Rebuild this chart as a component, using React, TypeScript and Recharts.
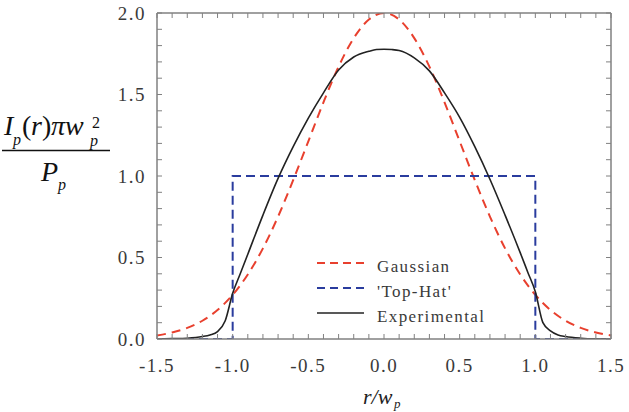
import React from "react";
import { LineChart, Line, XAxis, YAxis, Customized } from "recharts";

// Normalised radius positions (r / w_p) and intensity readings
const gaussR = [-1.5, -1.4, -1.3, -1.2, -1.1, -1.0, -0.9, -0.8, -0.7, -0.6, -0.5, -0.4, -0.3, -0.2, -0.1, 0, 0.1, 0.2, 0.3, 0.4, 0.5, 0.6, 0.7, 0.8, 0.9, 1.0, 1.1, 1.2, 1.3, 1.4, 1.5];
const gaussI = [0.022, 0.04, 0.068, 0.112, 0.178, 0.271, 0.396, 0.556, 0.751, 0.975, 1.213, 1.452, 1.671, 1.846, 1.96, 2.0, 1.96, 1.846, 1.671, 1.452, 1.213, 0.975, 0.751, 0.556, 0.396, 0.271, 0.178, 0.112, 0.068, 0.04, 0.022];

const hatR = [-1.5, -1.0, -1.0, 1.0, 1.0, 1.5];
const hatI = [0, 0, 1, 1, 0, 0];

const expR = [-1.5, -1.4, -1.3, -1.2, -1.15, -1.1, -1.05, -1.0, -0.95, -0.9, -0.8, -0.7, -0.6, -0.5, -0.4, -0.3, -0.2, -0.1, -0.05, 0, 0.05, 0.1, 0.2, 0.3, 0.4, 0.5, 0.6, 0.7, 0.8, 0.9, 0.95, 1.0, 1.05, 1.1, 1.15, 1.2, 1.3, 1.4, 1.5];
const expI = [0, 0.002, 0.005, 0.015, 0.025, 0.045, 0.11, 0.28, 0.4, 0.52, 0.76, 0.985, 1.18, 1.355, 1.51, 1.65, 1.73, 1.765, 1.776, 1.778, 1.776, 1.77, 1.725, 1.645, 1.51, 1.36, 1.18, 0.98, 0.76, 0.53, 0.41, 0.29, 0.1, 0.05, 0.025, 0.015, 0.005, 0.001, 0];

const xTicks = [-1.5, -1.4, -1.3, -1.2, -1.1, -1.0, -0.9, -0.8, -0.7, -0.6, -0.5, -0.4, -0.3, -0.2, -0.1, 0, 0.1, 0.2, 0.3, 0.4, 0.5, 0.6, 0.7, 0.8, 0.9, 1.0, 1.1, 1.2, 1.3, 1.4, 1.5];
const yTicks = [0, 0.1, 0.2, 0.3, 0.4, 0.5, 0.6, 0.7, 0.8, 0.9, 1.0, 1.1, 1.2, 1.3, 1.4, 1.5, 1.6, 1.7, 1.8, 1.9, 2.0];

const seriesNames = ["Gaussian", "'Top-Hat'", "Experimental"];

const zip = (r: number[], v: number[]) => r.map((x, i) => ({ r: x, I: v[i] }));
const gaussData = zip(gaussR, gaussI);
const hatData = zip(hatR, hatI);
const expData = zip(expR, expI);

const RED = "#e8402e";
const BLUE = "#2a3c9e";
const BLACK = "#222222";
const AXIS = "#808080";
const TEXT = "#3a3a3a";
const SERIF = "'Liberation Serif', 'DejaVu Serif', serif";
const TICK = 5;

const serif = (size: number, italic = false, extra: React.CSSProperties = {}): React.CSSProperties => ({
  fontFamily: SERIF,
  fontSize: size,
  fontStyle: italic ? "italic" : "normal",
  ...extra,
});

const isMajor = (v: number) => Math.abs(v * 2 - Math.round(v * 2)) < 1e-6;
const fmt = (v: number) => (Math.abs(v) < 1e-9 ? 0 : v).toFixed(1);

const BottomTick = (p: any) => {
  const { x, y, payload } = p;
  const v = payload.value as number;
  return (
    <g>
      <line x1={x} x2={x} y1={y} y2={y - TICK} stroke={AXIS} strokeWidth={1} />
      {isMajor(v) && (
        <text x={x} y={y + 33} textAnchor="middle" style={serif(19, false, { letterSpacing: 1.5 })} fill={TEXT}>
          {fmt(v)}
        </text>
      )}
    </g>
  );
};

const TopTick = (p: any) => {
  const { x, y } = p;
  return <line x1={x} x2={x} y1={y} y2={y + TICK} stroke={AXIS} strokeWidth={1} />;
};

const LeftTick = (p: any) => {
  const { x, y, payload } = p;
  const v = payload.value as number;
  return (
    <g>
      <line x1={x} x2={x + TICK} y1={y} y2={y} stroke={AXIS} strokeWidth={1} />
      {isMajor(v) && (
        <text x={x - 11} y={y + 6.5} textAnchor="end" style={serif(19, false, { letterSpacing: 1.5 })} fill={TEXT}>
          {fmt(v)}
        </text>
      )}
    </g>
  );
};

const RightTick = (p: any) => {
  const { x, y } = p;
  return <line x1={x} x2={x - TICK} y1={y} y2={y} stroke={AXIS} strokeWidth={1} />;
};

// Axis titles and legend drawn as SVG text
const Annotations = () => {
  const legendRows = [
    { name: seriesNames[0], color: RED, dash: "8 5", w: 2 },
    { name: seriesNames[1], color: BLUE, dash: "8 5", w: 2 },
    { name: seriesNames[2], color: BLACK, dash: undefined, w: 1.6 },
  ];
  return (
    <g>
      {/* y-axis title: I_p(r) π w_p^2 / P_p */}
      <g fill="#111">
        <text x={4} y={135} style={serif(28, true)}>I</text>
        <text x={13} y={145} style={serif(16, true)}>p</text>
        <text x={22} y={135} style={serif(28)}>(</text>
        <text x={31} y={135} style={serif(28, true)}>r</text>
        <text x={42} y={135} style={serif(28)}>)</text>
        <text x={51} y={135} style={serif(28, true)}>π</text>
        <text x={65} y={135} style={serif(28, true)}>w</text>
        <text x={90} y={146} style={serif(16, true)}>p</text>
        <text x={92} y={128} style={serif(16)}>2</text>
        <line x1={2} x2={110} y1={150.5} y2={150.5} stroke="#111" strokeWidth={1.5} />
        <text x={41} y={181} style={serif(28, true)}>P</text>
        <text x={58} y={190} style={serif(16, true)}>p</text>
      </g>
      {/* x-axis title: r / w_p */}
      <g fill="#222">
        <text x={363} y={404} style={serif(22, true)}>r/w</text>
        <text x={394} y={408} style={serif(13, true)}>p</text>
      </g>
      {/* legend */}
      {legendRows.map((row, i) => (
        <g key={row.name}>
          <line x1={317} x2={364} y1={263 + i * 25} y2={263 + i * 25} stroke={row.color} strokeWidth={row.w} strokeDasharray={row.dash} />
          <text x={377} y={272 + i * 25} style={serif(17, false, { letterSpacing: 1.4 })} fill={TEXT}>
            {row.name}
          </text>
        </g>
      ))}
    </g>
  );
};

export default function App() {
  return (
    <div style={{ position: "absolute", left: 0, top: 0, width: 629, height: 412, background: "#fff" }}>
      <LineChart width={629} height={412} margin={{ top: 12, right: 17, bottom: 43, left: 97 }}>
        <XAxis
          xAxisId="bottom"
          dataKey="r"
          type="number"
          domain={[-1.5, 1.5]}
          ticks={xTicks}
          interval={0}
          height={30}
          tickLine={false}
          tickSize={0}
          tickMargin={0}
          tick={<BottomTick />}
          axisLine={{ stroke: AXIS, strokeWidth: 1.5 }}
          allowDataOverflow
        />
        <XAxis
          xAxisId="top"
          orientation="top"
          dataKey="r"
          type="number"
          domain={[-1.5, 1.5]}
          ticks={xTicks}
          interval={0}
          height={1}
          tickLine={false}
          tickSize={0}
          tickMargin={0}
          tick={<TopTick />}
          axisLine={{ stroke: AXIS, strokeWidth: 1.5 }}
          allowDataOverflow
        />
        <YAxis
          yAxisId="left"
          type="number"
          domain={[0, 2]}
          ticks={yTicks}
          interval={0}
          width={60}
          tickLine={false}
          tickSize={0}
          tickMargin={0}
          tick={<LeftTick />}
          axisLine={{ stroke: AXIS, strokeWidth: 1.5 }}
          allowDataOverflow
        />
        <YAxis
          yAxisId="right"
          orientation="right"
          type="number"
          domain={[0, 2]}
          ticks={yTicks}
          interval={0}
          width={1}
          tickLine={false}
          tickSize={0}
          tickMargin={0}
          tick={<RightTick />}
          axisLine={{ stroke: AXIS, strokeWidth: 1.5 }}
          allowDataOverflow
        />
        <Line xAxisId="bottom" yAxisId="left" data={gaussData} dataKey="I" name={seriesNames[0]} type="monotone" stroke={RED} strokeWidth={2} strokeDasharray="9 6" dot={false} isAnimationActive={false} />
        <Line xAxisId="bottom" yAxisId="left" data={hatData} dataKey="I" name={seriesNames[1]} type="linear" stroke={BLUE} strokeWidth={2} strokeDasharray="9 5" dot={false} isAnimationActive={false} />
        <Line xAxisId="bottom" yAxisId="left" data={expData} dataKey="I" name={seriesNames[2]} type="monotone" stroke={BLACK} strokeWidth={1.6} dot={false} isAnimationActive={false} />
        <Customized component={Annotations} />
      </LineChart>
    </div>
  );
}
